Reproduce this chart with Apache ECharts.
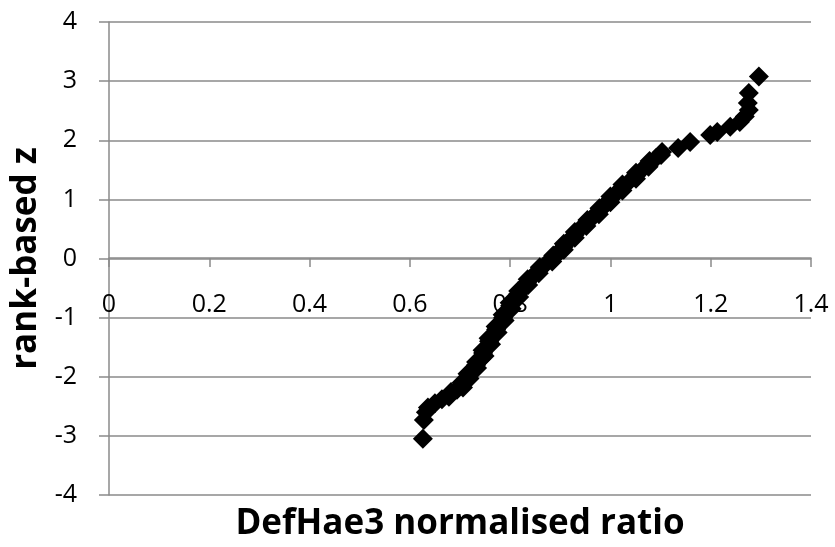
<!DOCTYPE html>
<html>
<head>
<meta charset="utf-8">
<script src="https://cdn.jsdelivr.net/npm/echarts@6/dist/echarts.min.js"></script>
<style>
  html, body { margin: 0; padding: 0; background: #fff; }
  #chart { width: 835px; height: 547px; }
</style>
</head>
<body>
<div id="chart"></div>
<script>
// Normalised DefHae3 ratio per sample and its rank-based z score
const ratio = [0.626, 0.628, 0.632, 0.636, 0.650, 0.664, 0.680, 0.694, 0.705, 0.711, 0.716,
  0.724, 0.732, 0.742, 0.746, 0.754, 0.758, 0.765, 0.772, 0.779, 0.786, 0.793, 0.800,
  0.808, 0.816, 0.825, 0.834, 0.845, 0.857, 0.870, 0.886, 0.896, 0.907, 0.917, 0.929,
  0.939, 0.953, 0.965, 0.977, 0.989, 0.999, 1.011, 1.023, 1.037, 1.051, 1.063, 1.077,
  1.091, 1.103, 1.135, 1.159, 1.199, 1.213, 1.239, 1.258, 1.268, 1.276, 1.274, 1.276, 1.296,
  0.678, 0.682, 0.706, 0.703, 0.719, 0.715, 0.734, 0.732, 0.749, 0.745, 0.762, 0.757,
  0.775, 0.771, 0.789, 0.785, 0.803, 0.799, 0.818, 0.816, 0.836, 0.835, 0.857, 0.859,
  0.884, 0.886, 0.907, 0.907, 0.929, 0.929, 0.952, 0.954, 0.977, 0.978, 1.000, 1.000,
  1.024, 1.024, 1.051, 1.051, 1.076, 1.078, 1.101];
const rankZ = [-3.05, -2.73, -2.60, -2.52, -2.45, -2.38, -2.30, -2.22, -2.14, -2.07, -2.00,
  -1.90, -1.80, -1.70, -1.60, -1.50, -1.40, -1.30, -1.20, -1.10, -1.00, -0.90, -0.80,
  -0.70, -0.60, -0.50, -0.40, -0.30, -0.20, -0.10, 0.00, 0.10, 0.20, 0.30, 0.40,
  0.50, 0.60, 0.70, 0.80, 0.90, 1.00, 1.10, 1.20, 1.30, 1.40, 1.50, 1.60,
  1.70, 1.80, 1.87, 1.97, 2.09, 2.14, 2.23, 2.31, 2.40, 2.51, 2.63, 2.80, 3.08,
  -2.34, -2.26, -2.18, -2.10, -2.03, -1.95, -1.85, -1.75, -1.65, -1.55, -1.45, -1.35,
  -1.25, -1.15, -1.05, -0.95, -0.85, -0.75, -0.65, -0.55, -0.45, -0.35, -0.25, -0.15,
  -0.05, 0.05, 0.15, 0.25, 0.35, 0.45, 0.55, 0.65, 0.75, 0.85, 0.95, 1.05,
  1.15, 1.25, 1.35, 1.45, 1.55, 1.65, 1.75];

const xTicks = [0, 0.2, 0.4, 0.6, 0.8, 1, 1.2, 1.4];
const yTicks = [-4, -3, -2, -1, 0, 1, 2, 3, 4];
const xTitle = 'DefHae3 normalised ratio';
const yTitle = 'rank-based z';

const points = ratio.map((r, i) => [r, rankZ[i]]);
const axisGrey = '#8a8a8a';
const font = '"Open Sans", "Liberation Sans", sans-serif';

const chart = echarts.init(document.getElementById('chart'), null, { renderer: 'canvas' });
chart.setOption({
  animation: false,
  backgroundColor: '#ffffff',
  grid: { left: 109, right: 24, top: 22, bottom: 51, containLabel: false },
  xAxis: [{
    // value axis drawn through z = 0, halfway up the plot
    type: 'value',
    position: 'bottom',
    offset: -237,
    min: xTicks[0],
    max: xTicks[xTicks.length - 1],
    interval: 0.2,
    axisLine: { show: true, onZero: false, lineStyle: { color: axisGrey, width: 1.5 } },
    axisTick: { show: true, inside: false, length: 9, lineStyle: { color: axisGrey, width: 1.5 } },
    axisLabel: {
      show: true, margin: 34, color: '#000', fontSize: 25, fontFamily: font,
      formatter: v => String(+v.toFixed(1))
    },
    splitLine: { show: false }
  }, {
    // carries the axis title below the plot
    type: 'value',
    position: 'bottom',
    min: 0, max: 1,
    axisLine: { show: false, onZero: false },
    axisTick: { show: false },
    axisLabel: { show: false },
    splitLine: { show: false },
    name: xTitle,
    nameLocation: 'middle',
    nameGap: 12,
    nameTextStyle: { color: '#000', fontSize: 35, fontWeight: 'bold', fontFamily: font }
  }],
  yAxis: {
    type: 'value',
    min: yTicks[0],
    max: yTicks[yTicks.length - 1],
    interval: 1,
    axisLine: { show: true, onZero: false, lineStyle: { color: axisGrey, width: 1.5 } },
    axisTick: { show: true, inside: false, length: 10, lineStyle: { color: axisGrey, width: 1.5 } },
    axisLabel: { show: true, margin: 32, color: '#000', fontSize: 25, fontFamily: font },
    splitLine: { show: true, lineStyle: { color: axisGrey, width: 1.5 } },
    name: yTitle,
    nameLocation: 'middle',
    nameRotate: 90,
    nameGap: 60,
    nameTextStyle: { color: '#000', fontSize: 35, fontWeight: 'bold', fontFamily: font }
  },
  series: [{
    type: 'scatter',
    xAxisIndex: 0,
    data: points,
    symbol: 'diamond',
    symbolSize: 20,
    itemStyle: { color: '#000', opacity: 1 },
    z: 5
  }]
});
</script>
</body>
</html>
